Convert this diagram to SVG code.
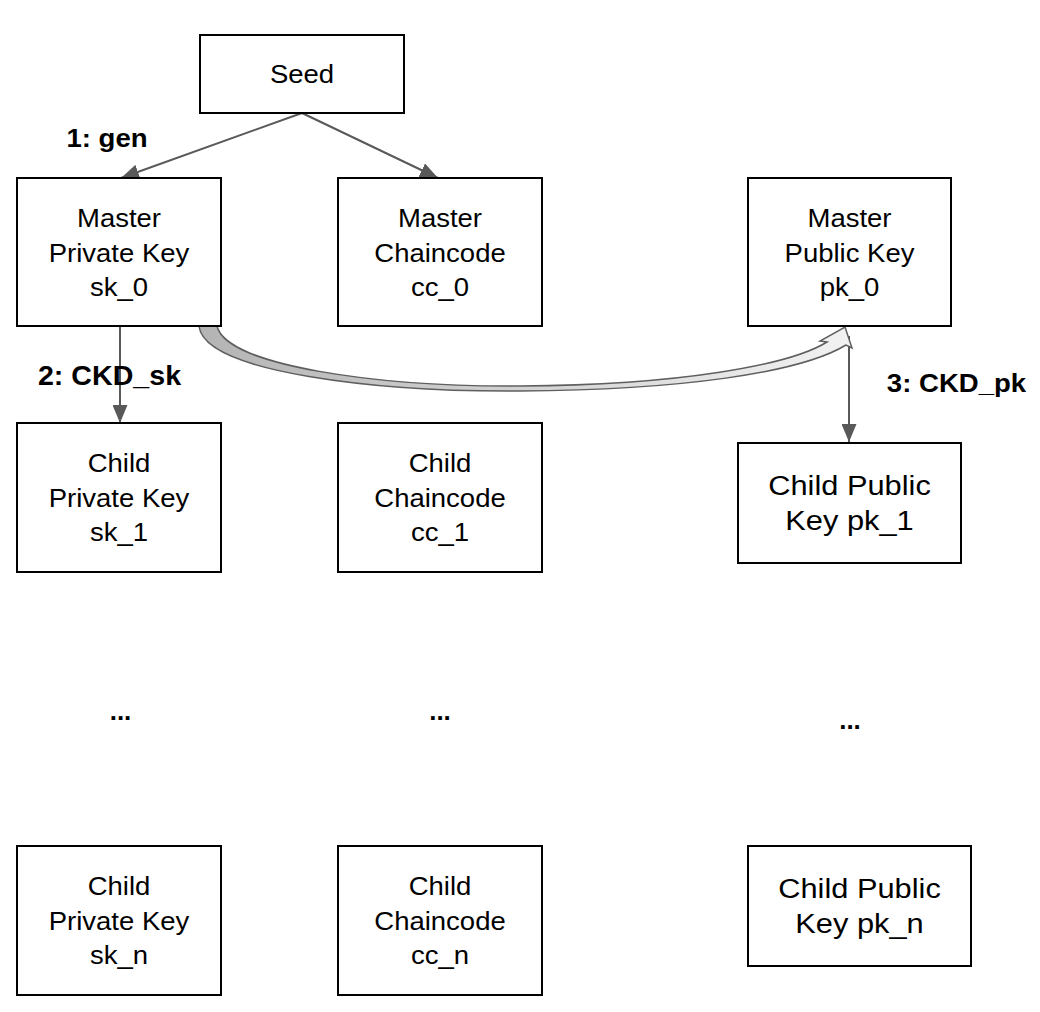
<svg xmlns="http://www.w3.org/2000/svg" width="1040" height="1012" viewBox="0 0 1040 1012">
<style>
.box{fill:#fff;stroke:#000;stroke-width:2}
.t{font-family:"Liberation Sans",Arial,sans-serif;font-size:25px;fill:#000;text-anchor:middle}
.tb{font-family:"Liberation Sans",Arial,sans-serif;font-size:28px;fill:#000;text-anchor:middle}
.lbl{font-family:"Liberation Sans",Arial,sans-serif;font-size:26px;font-weight:bold;fill:#000;text-anchor:middle}
.edge{stroke:#595959;stroke-width:2;fill:none}
</style>
<defs>
<marker id="ah" viewBox="0 0 18 15" refX="18" refY="7.5" markerWidth="18" markerHeight="15" markerUnits="userSpaceOnUse" orient="auto">
<path d="M0,0 L18,7.5 L0,15 Z" fill="#595959"/>
</marker>
<linearGradient id="grad" x1="0" y1="0" x2="1" y2="0">
<stop offset="0" stop-color="#b4b4b4"/>
<stop offset="1" stop-color="#f2f2f2"/>
</linearGradient>
</defs>
<g id="connectors">
<line class="edge" x1="302" y1="113" x2="121" y2="178" marker-end="url(#ah)"/>
<line class="edge" x1="302" y1="113" x2="438" y2="178" marker-end="url(#ah)"/>
<line class="edge" x1="120" y1="326" x2="120" y2="423" marker-end="url(#ah)"/>
<line class="edge" x1="849" y1="336" x2="849" y2="442" marker-end="url(#ah)"/>
<path d="M199,326 C204,373 380,392 520,391 C680,390 800,373 846,345 L852,348 L845,327 L820,341 L827,342 C790,365 680,385 520,386 C380,387 226,366 217,326 Z" fill="url(#grad)" stroke="#5f5f5f" stroke-width="1.5" stroke-linejoin="miter"/>
</g>
<g id="labels">
<text class="lbl" transform="translate(107,147) scale(1.06,1)">1: gen</text>
<text class="lbl" style="font-size:27px" transform="translate(109.5,385) scale(1.06,1)">2: CKD_sk</text>
<text class="lbl" transform="translate(956.5,392) scale(1.06,1)">3: CKD_pk</text>
<text class="lbl" x="120.5" y="720">...</text>
<text class="lbl" x="440" y="720">...</text>
<text class="lbl" x="850" y="729">...</text>
</g>
<g id="seed">
<rect class="box" x="200" y="35" width="204" height="78"/>
<text class="t" transform="translate(302,83) scale(1.1,1)">Seed</text>
</g>
<g id="master-private-key">
<rect class="box" x="17" y="178" width="204" height="148"/>
<text class="t" transform="translate(119,227) scale(1.1,1)">Master</text>
<text class="t" transform="translate(119,261.5) scale(1.1,1)">Private Key</text>
<text class="t" transform="translate(119,296) scale(1.1,1)">sk_0</text>
</g>
<g id="master-chaincode">
<rect class="box" x="338" y="178" width="204" height="148"/>
<text class="t" transform="translate(440,227) scale(1.1,1)">Master</text>
<text class="t" transform="translate(440,261.5) scale(1.1,1)">Chaincode</text>
<text class="t" transform="translate(440,296) scale(1.1,1)">cc_0</text>
</g>
<g id="master-public-key">
<rect class="box" x="748" y="178" width="203" height="148"/>
<text class="t" transform="translate(849.5,227) scale(1.1,1)">Master</text>
<text class="t" transform="translate(849.5,261.5) scale(1.1,1)">Public Key</text>
<text class="t" transform="translate(849.5,296) scale(1.1,1)">pk_0</text>
</g>
<g id="child-private-key-1">
<rect class="box" x="17" y="423" width="204" height="149"/>
<text class="t" transform="translate(119,472) scale(1.1,1)">Child</text>
<text class="t" transform="translate(119,506.5) scale(1.1,1)">Private Key</text>
<text class="t" transform="translate(119,541) scale(1.1,1)">sk_1</text>
</g>
<g id="child-chaincode-1">
<rect class="box" x="338" y="423" width="204" height="149"/>
<text class="t" transform="translate(440,472) scale(1.1,1)">Child</text>
<text class="t" transform="translate(440,506.5) scale(1.1,1)">Chaincode</text>
<text class="t" transform="translate(440,541) scale(1.1,1)">cc_1</text>
</g>
<g id="child-public-key-1">
<rect class="box" x="738" y="443" width="223" height="120"/>
<text class="tb" transform="translate(849.5,495) scale(1.1,1)">Child Public</text>
<text class="tb" transform="translate(849.5,530) scale(1.1,1)">Key pk_1</text>
</g>
<g id="child-private-key-n">
<rect class="box" x="17" y="846" width="204" height="149"/>
<text class="t" transform="translate(119,895) scale(1.1,1)">Child</text>
<text class="t" transform="translate(119,929.5) scale(1.1,1)">Private Key</text>
<text class="t" transform="translate(119,964) scale(1.1,1)">sk_n</text>
</g>
<g id="child-chaincode-n">
<rect class="box" x="338" y="846" width="204" height="149"/>
<text class="t" transform="translate(440,895) scale(1.1,1)">Child</text>
<text class="t" transform="translate(440,929.5) scale(1.1,1)">Chaincode</text>
<text class="t" transform="translate(440,964) scale(1.1,1)">cc_n</text>
</g>
<g id="child-public-key-n">
<rect class="box" x="748" y="846" width="223" height="120"/>
<text class="tb" transform="translate(859.5,898) scale(1.1,1)">Child Public</text>
<text class="tb" transform="translate(859.5,933) scale(1.1,1)">Key pk_n</text>
</g>
</svg>
